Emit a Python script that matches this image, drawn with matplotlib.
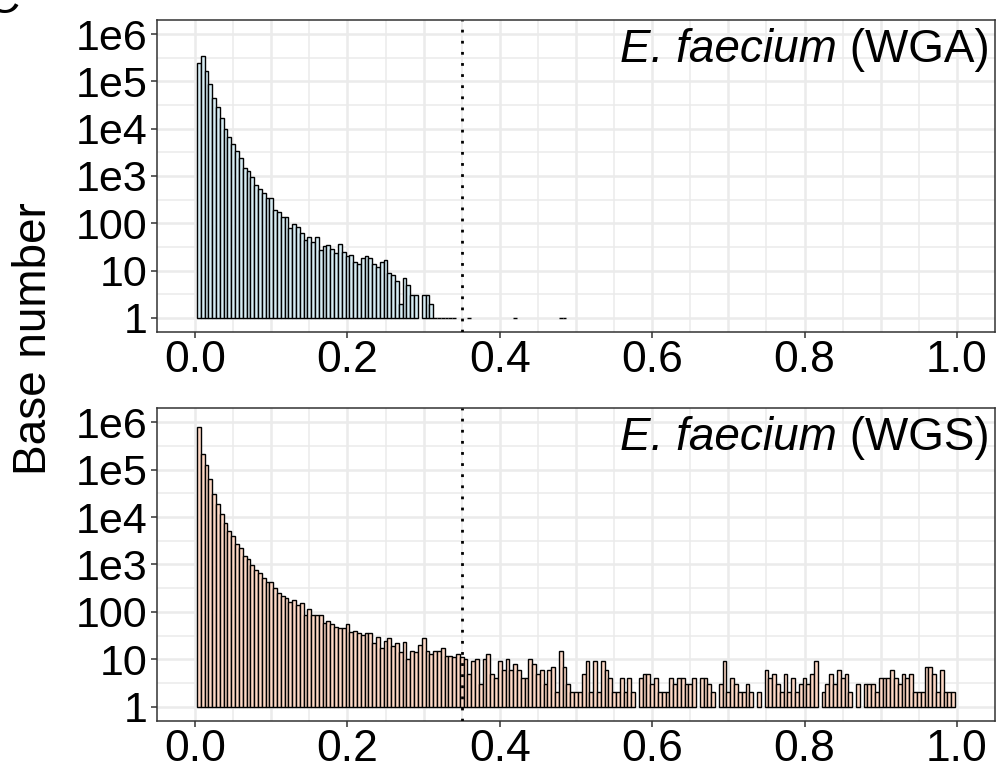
#!/bin/env python3
import matplotlib.pyplot as plt
import numpy as np

plt.rcParams['font.family'] = ['Liberation Sans', 'DejaVu Sans']

# histogram bins are 0.005 wide, first bar centred on 0.005
bin_width = 0.005

# counts per bin
wga_counts = [
    250000, 340000, 170000, 89000, 44000, 28500, 17000, 10000, 6600, 4700,
    3300, 2450, 1500, 1300, 960, 660, 540, 430, 335, 335,
    190, 175, 138, 138, 78, 97, 85, 62, 45, 52,
    41, 50, 27, 33, 35, 28, 23, 36, 25, 20,
    21, 15, 14, 18, 20, 18, 14, 12, 15, 17,
    9, 8, 6, 2, 7, 5, 3, 3, 0, 3,
    3, 2, 1, 1, 1, 1, 1, 1, 0, 0,
    0, 1, 0, 0, 0, 0, 0, 0, 0, 0,
    0, 0, 0, 1, 0, 0, 0, 0, 0, 0,
    0, 0, 0, 0, 0, 1, 1,
]
wgs_counts = [
    780000, 215000, 123000, 63000, 31000, 18500, 11800, 7500, 5100, 3900,
    2750, 2200, 1500, 1300, 980, 780, 645, 525, 425, 425,
    325, 245, 215, 200, 162, 177, 138, 155, 85, 114,
    85, 85, 85, 59, 65, 56, 48, 46, 46, 55,
    38, 40, 36, 33, 36, 36, 22, 29, 17, 24,
    28, 19, 22, 14, 23, 10, 15, 14, 20, 28,
    15, 13, 15, 15, 17, 12, 12, 11, 13, 11,
    10, 5, 9, 10, 3, 10, 13, 5, 4, 9,
    6, 10, 6, 8, 6, 4, 4, 10, 8, 5,
    6, 3, 6, 7, 2, 15, 7, 3, 2, 2,
    2, 5, 9, 2, 9, 2, 9, 6, 4, 2,
    2, 4, 2, 4, 2, 0, 4, 5, 5, 3,
    4, 2, 2, 2, 4, 3, 4, 4, 3, 3,
    4, 0, 4, 4, 3, 2, 0, 3, 9, 2,
    4, 3, 2, 2, 3, 2, 0, 2, 0, 6,
    4, 5, 3, 2, 5, 2, 4, 2, 3, 4,
    3, 5, 9, 0, 2, 3, 5, 3, 6, 4,
    5, 2, 0, 3, 0, 3, 3, 3, 2, 4,
    4, 4, 6, 4, 3, 5, 4, 5, 2, 2,
    2, 7, 7, 5, 2, 6, 2, 2, 2,
]

x_ticks = [0.0, 0.2, 0.4, 0.6, 0.8, 1.0]
x_tick_labels = ['0.0', '0.2', '0.4', '0.6', '0.8', '1.0']
y_ticks = [1, 10, 100, 1e3, 1e4, 1e5, 1e6]
y_tick_labels = ['1', '10', '100', '1e3', '1e4', '1e5', '1e6']
cutoff = 0.35
species = 'E. faecium'
methods = ['(WGA)', '(WGS)']
fills = ['#d6ecf3', '#fdd8c5']

fig = plt.figure(figsize=(9.98, 7.71), dpi=100)
ax_top = fig.add_axes([0.1573, 0.5694, 0.8397, 0.4047])
ax_bot = fig.add_axes([0.1573, 0.0649, 0.8397, 0.4060])
renderer = fig.canvas.get_renderer()


def draw_panel(ax, counts, fill, method):
    counts = np.asarray(counts, dtype=float)
    centers = (np.arange(len(counts)) + 1) * bin_width
    ax.set_yscale('log')
    ax.set_xlim(-0.05, 1.05)
    ax.set_ylim(10 ** -0.3, 10 ** 6.3)

    # ggplot-ish grid: thick at 0.1 / decades, thin in between
    for i in range(21):
        ax.axvline(i * 0.05, color='#ebebeb', lw=1.8 if i % 2 == 0 else 1.1, zorder=0)
    for d in range(7):
        ax.axhline(10 ** d, color='#ebebeb', lw=1.8, zorder=0)
        if d < 6:
            ax.axhline(10 ** (d + 0.5), color='#ebebeb', lw=1.1, zorder=0)

    keep = counts >= 1
    ax.bar(centers[keep], counts[keep] - 1, bottom=1, width=bin_width,
           color=fill, edgecolor='black', linewidth=1.0, zorder=2)
    ax.axvline(cutoff, color='black', lw=2.0, linestyle=(0, (1, 3)), zorder=3)

    ax.set_xticks(x_ticks)
    ax.set_xticklabels(x_tick_labels, fontsize=32)
    ax.set_yticks(y_ticks)
    ax.set_yticklabels(y_tick_labels, fontsize=31)
    ax.minorticks_off()
    ax.tick_params(length=4, width=1.1, color='#333333', pad=3)
    ax.tick_params(axis='x', pad=1.5)
    for s in ax.spines.values():
        s.set_color('#333333')
        s.set_linewidth(1.1)

    # label: italic species name followed by upright method
    t = ax.text(0.994, 0.865, ' ' + method, transform=ax.transAxes,
                ha='right', va='baseline', fontsize=33, zorder=4)
    x0 = t.get_window_extent(renderer).x0
    xa = ax.transAxes.inverted().transform((x0, 0))[0]
    ax.text(xa, 0.865, species, transform=ax.transAxes, ha='right',
            va='baseline', fontsize=33, style='italic', zorder=4)


draw_panel(ax_top, wga_counts, fills[0], methods[0])
draw_panel(ax_bot, wgs_counts, fills[1], methods[1])

fig.text(34 / 998, 1 - 339 / 771, 'Base number', rotation=90,
         ha='center', va='center', fontsize=33)
# panel letter, mostly cut off at the top edge
fig.text(-0.013, 1 - 13 / 771, 'C', fontsize=33, va='baseline')

fig.savefig('out.png', dpi=100)
